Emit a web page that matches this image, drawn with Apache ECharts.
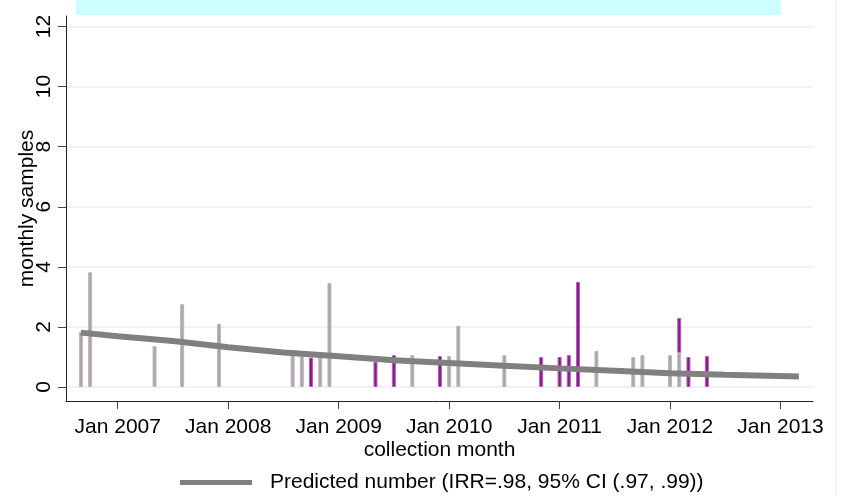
<!DOCTYPE html>
<html><head><meta charset="utf-8">
<script src="https://cdn.jsdelivr.net/npm/echarts@6/dist/echarts.min.js"></script>
<style>html,body{margin:0;padding:0;background:#fff}#c{width:844px;height:496px}</style>
</head><body><div id="c"></div>
<script>
// months counted as Stata %tm (months since Jan 1960)
const barMonths    = [560, 561, 568, 571, 575, 583, 584, 585, 586, 587, 592, 594, 596, 599, 600, 601, 606, 610, 612, 613, 614, 616, 620, 621, 624, 625, 626, 628];
const grayValues   = [1.84, 3.82, 1.36, 2.76, 2.11, 1.05, 1.05, null, 1.0, 3.46, null, null, 1.06, null, 1.03, 2.04, 1.06, null, null, null, null, 1.2, 1.0, 1.06, 1.06, 1.14, null, null];
const purpleValues = [null, null, null, null, null, null, null, 0.98, null, null, 0.84, 1.06, null, 1.03, null, null, null, 1.0, 1.0, 1.06, 3.5, null, null, null, null, 1.16, 1.0, 1.03];
const lineMonths = [560, 564, 570, 576, 582, 588, 594, 600, 606, 612, 618, 624, 630, 638];
const lineValues = [1.81, 1.69, 1.53, 1.32, 1.15, 1.02, 0.89, 0.80, 0.71, 0.62, 0.54, 0.46, 0.41, 0.35];
const xTicks = [564, 576, 588, 600, 612, 624, 636];
const xTickLabels = ['Jan 2007', 'Jan 2008', 'Jan 2009', 'Jan 2010', 'Jan 2011', 'Jan 2012', 'Jan 2013'];
const yTicks = [0, 2, 4, 6, 8, 10, 12];
const legendLabel = 'Predicted number (IRR=.98, 95% CI (.97, .99))';

const FONT = 'Liberation Sans, Arial, Helvetica, sans-serif';
const chart = echarts.init(document.getElementById('c'));
// value first, month second, so that stacking happens on the value dimension
const valueFirst = (xs, ys) => xs.map((x, i) => [ys[i] == null ? '-' : ys[i], x]);
const pair = (xs, ys) => xs.map((x, i) => [x, ys[i]]);

chart.setOption({
  animation: false,
  backgroundColor: '#ffffff',
  textStyle: { fontFamily: FONT, color: '#000' },
  graphic: [
    { type: 'rect', shape: { x: 76, y: 0, width: 705, height: 15 }, style: { fill: '#ccffff' }, z: -1 },
    { type: 'line', shape: { x1: 836.5, y1: 0, x2: 836.5, y2: 496 }, style: { stroke: '#e8eef2', lineWidth: 1 }, z: -1 }
  ],
  grid: { left: 66, right: 31, top: 16, bottom: 95, containLabel: false },
  legend: {
    left: 180, top: 472, padding: 0,
    icon: 'rect', itemWidth: 72, itemHeight: 5,
    data: [legendLabel],
    textStyle: { fontFamily: FONT, fontSize: 21, color: '#000', padding: [0, 0, 0, 13] }
  },
  xAxis: {
    type: 'value', min: 558.38, max: 639.53,
    name: 'collection month', nameLocation: 'middle', nameGap: 39, nameMoveOverlap: false,
    nameTextStyle: { fontFamily: FONT, fontSize: 21, color: '#000' },
    axisLine: { show: true, onZero: false, lineStyle: { color: '#222', width: 1 } },
    axisTick: { show: true, length: 8, customValues: xTicks, lineStyle: { color: '#444' } },
    axisLabel: {
      customValues: xTicks, margin: 16, fontFamily: FONT, fontSize: 21, color: '#000',
      formatter: v => xTickLabels[xTicks.indexOf(v)] || ''
    },
    splitLine: { show: false }
  },
  yAxis: {
    type: 'value', min: -0.466, max: 12.35,
    name: 'monthly samples', nameLocation: 'middle', nameGap: 28, nameRotate: 90, nameMoveOverlap: false,
    nameTextStyle: { fontFamily: FONT, fontSize: 21, color: '#000' },
    axisLine: { show: true, onZero: false, lineStyle: { color: '#222', width: 1 } },
    axisTick: { show: true, length: 8, customValues: yTicks, lineStyle: { color: '#444' } },
    axisLabel: { customValues: yTicks, rotate: 90, margin: 11, fontFamily: FONT, fontSize: 21, color: '#000' },
    splitLine: { show: true, lineStyle: { color: '#e8eff2', width: 1.5 } }
  },
  series: [
    {
      type: 'bar', name: 'gray', stack: 'total', barWidth: 4,
      encode: { x: 1, y: 0 },
      itemStyle: { color: '#a8a6aa', borderColor: '#c3b5c3', borderWidth: 1 },
      data: valueFirst(barMonths, grayValues), z: 2
    },
    {
      type: 'bar', name: 'purple', stack: 'total', barWidth: 4,
      encode: { x: 1, y: 0 },
      itemStyle: { color: '#8c1a8c', borderColor: '#b261b2', borderWidth: 1 },
      data: valueFirst(barMonths, purpleValues), z: 2
    },
    {
      type: 'line', name: legendLabel, showSymbol: false, symbol: 'none',
      color: '#808080',
      lineStyle: { color: '#808080', width: 6 },
      itemStyle: { color: '#808080' },
      data: pair(lineMonths, lineValues), z: 3
    }
  ]
});
</script></body></html>
